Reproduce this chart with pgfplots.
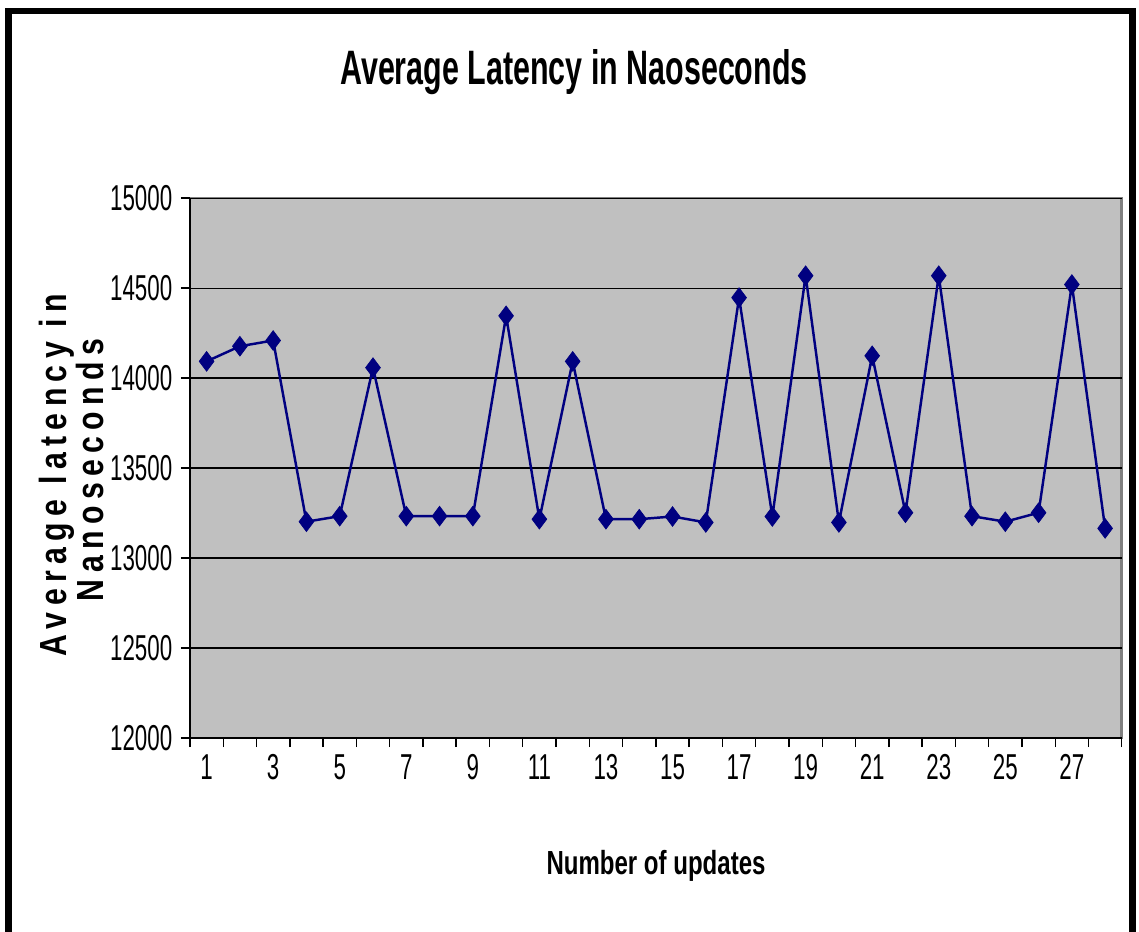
\documentclass[border=0pt]{standalone}
\usepackage{pgfplots}
\pgfplotsset{compat=1.18}
\usepackage{fontspec}
\setmainfont{Liberation Sans}
\newfontfamily\titlefont{Liberation Sans}[FakeStretch=0.63]
\newfontfamily\labfont{Liberation Sans}[FakeStretch=0.72]
\newfontfamily\tickfont{Liberation Sans}[FakeStretch=0.62]
\newfontfamily\ylabfont{Liberation Sans}[FakeStretch=0.8,LetterSpace=17]
\definecolor{plotgray}{HTML}{C0C0C0}
\definecolor{navy}{HTML}{000080}

\pgfplotstableread{
n  lat
1  14093
2  14177
3  14209
4  13202
5  13233
6  14058
7  13233
8  13233
9  13233
10 14346
11 13216
12 14093
13 13216
14 13216
15 13231
16 13198
17 14447
18 13231
19 14569
20 13198
21 14124
22 13252
23 14569
24 13233
25 13202
26 13252
27 14520
28 13165
}\latdata

\begin{document}
\begin{tikzpicture}[x=0.02cm,y=0.02cm]
\useasboundingbox (0,0) rectangle (1139,932);
% outer chart frame (bottom edge falls off the page)
\draw[line width=3.5pt] (8.5,-30) -- (8.5,921) -- (1132.5,921) -- (1132.5,-30);
\node[font=\titlefont\bfseries\fontsize{27.5}{30}\selectfont] at (574,860) {Average Latency in Naoseconds};
\node[font=\labfont\bfseries\fontsize{19}{22}\selectfont] at (656,66) {Number of updates};
\node[rotate=90,font=\ylabfont\bfseries\fontsize{21.5}{22}\selectfont] at (57,457) {Average latency in};
\node[rotate=90,font=\ylabfont\bfseries\fontsize{21.5}{22}\selectfont] at (90,462) {Nanoseconds};
\begin{axis}[
    at={(3.8cm,3.88cm)}, anchor=south west,
    scale only axis,
    width=18.64cm, height=10.8cm,
    xmin=0.5, xmax=28.5,
    ymin=12000, ymax=15000,
    % ticks sit on category boundaries, labels are shifted to the category centres
    xtick={0.5,1.5,...,28.5},
    xticklabels={1,{},3,{},5,{},7,{},9,{},11,{},13,{},15,{},17,{},19,{},21,{},23,{},25,{},27,{},{}},
    ytick={12000,12500,...,15000},
    yticklabels={12000,12500,13000,13500,14000,14500,15000},
    scaled y ticks=false,
    tick align=outside,
    major tick length=0.18cm,
    tick style={black, line width=0.8pt},
    axis x line*=bottom, axis y line*=left,
    axis background/.style={fill=plotgray, draw=gray, line width=1.5pt},
    axis line style={black, line width=1pt},
    ymajorgrids,
    major grid style={black, line width=0.7pt},
    tick label style={font=\tickfont\fontsize{20.5}{22}\selectfont},
    xticklabel style={xshift=0.333cm, yshift=-0.02cm},
    yticklabel style={xshift=-0.05cm},
]
\addplot[navy, line width=1.4pt, mark=diamond*, mark size=5.6pt,
    mark options={solid, fill=navy, draw=navy, line width=0.4pt}]
    table[x=n, y=lat] {\latdata};
\end{axis}
\end{tikzpicture}
\end{document}
